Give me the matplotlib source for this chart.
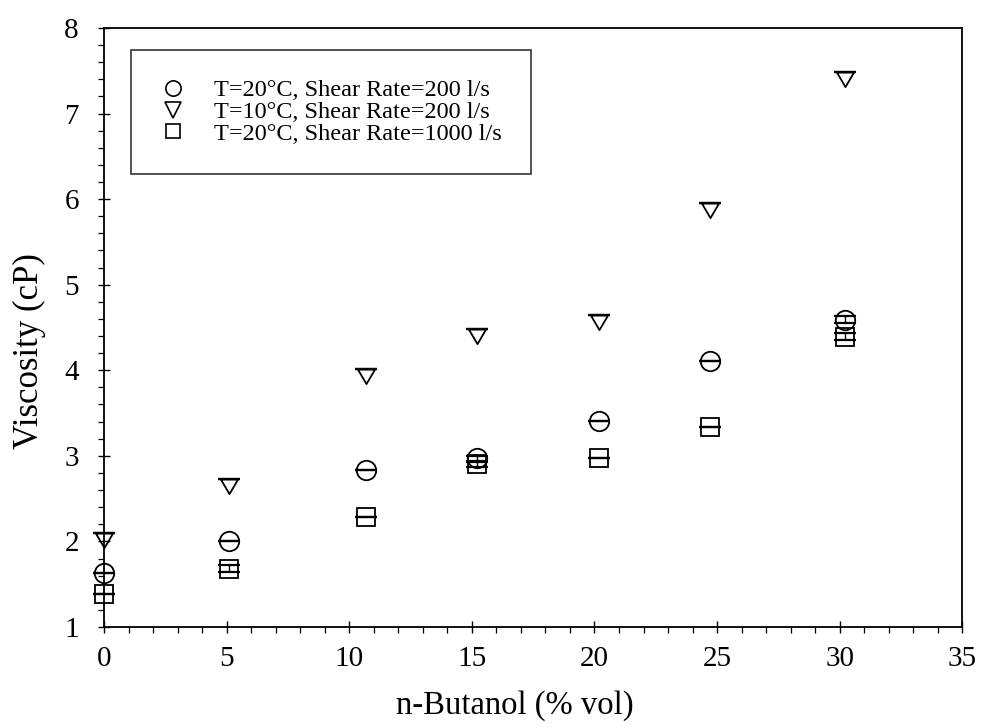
import numpy as np
import matplotlib.pyplot as plt
from matplotlib.ticker import MultipleLocator

plt.rcParams['font.family'] = ['Liberation Serif', 'DejaVu Serif']

# n-butanol content (% vol)
butanol = [0, 5.1, 10.7, 15.2, 20.2, 24.7, 30.2]

# viscosity (cP)
visc_20c_200 = [1.63, 2.01, 2.84, 2.97, 3.41, 4.11, 4.59]
visc_10c_200 = [2.10, 2.73, 4.02, 4.48, 4.65, 5.95, 7.48]
visc_20c_1000 = [1.38, 1.68, 2.28, 2.90, 2.98, 3.34, 4.39]

# small measurement spread drawn as short caps
err_20c_200 = [0.0, 0.0, 0.0, 0.03, 0.0, 0.0, 0.04]
err_10c_200 = [0.0, 0.0, 0.0, 0.0, 0.0, 0.0, 0.0]
err_20c_1000 = [0.0, 0.04, 0.0, 0.03, 0.0, 0.0, 0.04]

labels = ['T=20\u00b0C, Shear Rate=200 l/s',
          'T=10\u00b0C, Shear Rate=200 l/s',
          'T=20\u00b0C, Shear Rate=1000 l/s']

# downward triangle with its flat side on the data value
tri = [(-1, 0), (1, 0), (0, -1.7), (-1, 0)]

fig = plt.figure(figsize=(9.81, 7.27), dpi=100)
ax = fig.add_axes([0.106, 0.1376, 0.875, 0.8239])

series = [
    (visc_20c_200, err_20c_200, 'o', 14),
    (visc_10c_200, err_10c_200, tri, 21),
    (visc_20c_1000, err_20c_1000, 's', 13),
]
for (y, e, m, ms), lab in zip(series, labels):
    ax.errorbar(butanol, y, yerr=e, fmt='none', ecolor='black',
                elinewidth=1.0, capsize=8, capthick=1.6, zorder=3,
                clip_on=False)
    ax.plot(butanol, y, ls='none', marker=m, ms=ms, mfc='none',
            mec='black', mew=1.3, label=lab, zorder=4, clip_on=False)

ax.set_xlim(0, 35)
ax.set_ylim(1, 8)
ax.xaxis.set_major_locator(MultipleLocator(5))
ax.xaxis.set_minor_locator(MultipleLocator(1))
ax.yaxis.set_major_locator(MultipleLocator(1))
ax.yaxis.set_minor_locator(MultipleLocator(0.2))
ax.tick_params(which='major', direction='inout', length=8, width=1.0,
               labelsize=21)
ax.tick_params(which='minor', direction='out', length=4, width=0.9)
ax.tick_params(axis='x', which='major', pad=10)
ax.tick_params(axis='y', which='major', pad=14)

for s in ax.spines.values():
    s.set_linewidth(1.3)

ax.set_xlabel('n-Butanol (% vol)', fontsize=23.5)
ax.set_ylabel('Viscosity (cP)', fontsize=25)
ax.xaxis.set_label_coords(0.479, -0.105)
ax.yaxis.set_label_coords(-0.067, 0.46)

small = [ax.plot([], [], ls='none', marker=m, ms=ms, mfc='none',
                 mec='black', mew=1.2)[0]
         for m, ms in [('o', 11), ('v', 11), ('s', 10)]]
leg = ax.legend(small, labels, loc='upper left',
                bbox_to_anchor=(0.032, 0.963), fontsize=17.5,
                frameon=True, fancybox=False, edgecolor='black',
                handlelength=1.0, handletextpad=1.2, labelspacing=-0.01,
                borderpad=1.2, borderaxespad=0)
leg.get_frame().set_linewidth(1.2)

fig.savefig('out.png', dpi=100)
